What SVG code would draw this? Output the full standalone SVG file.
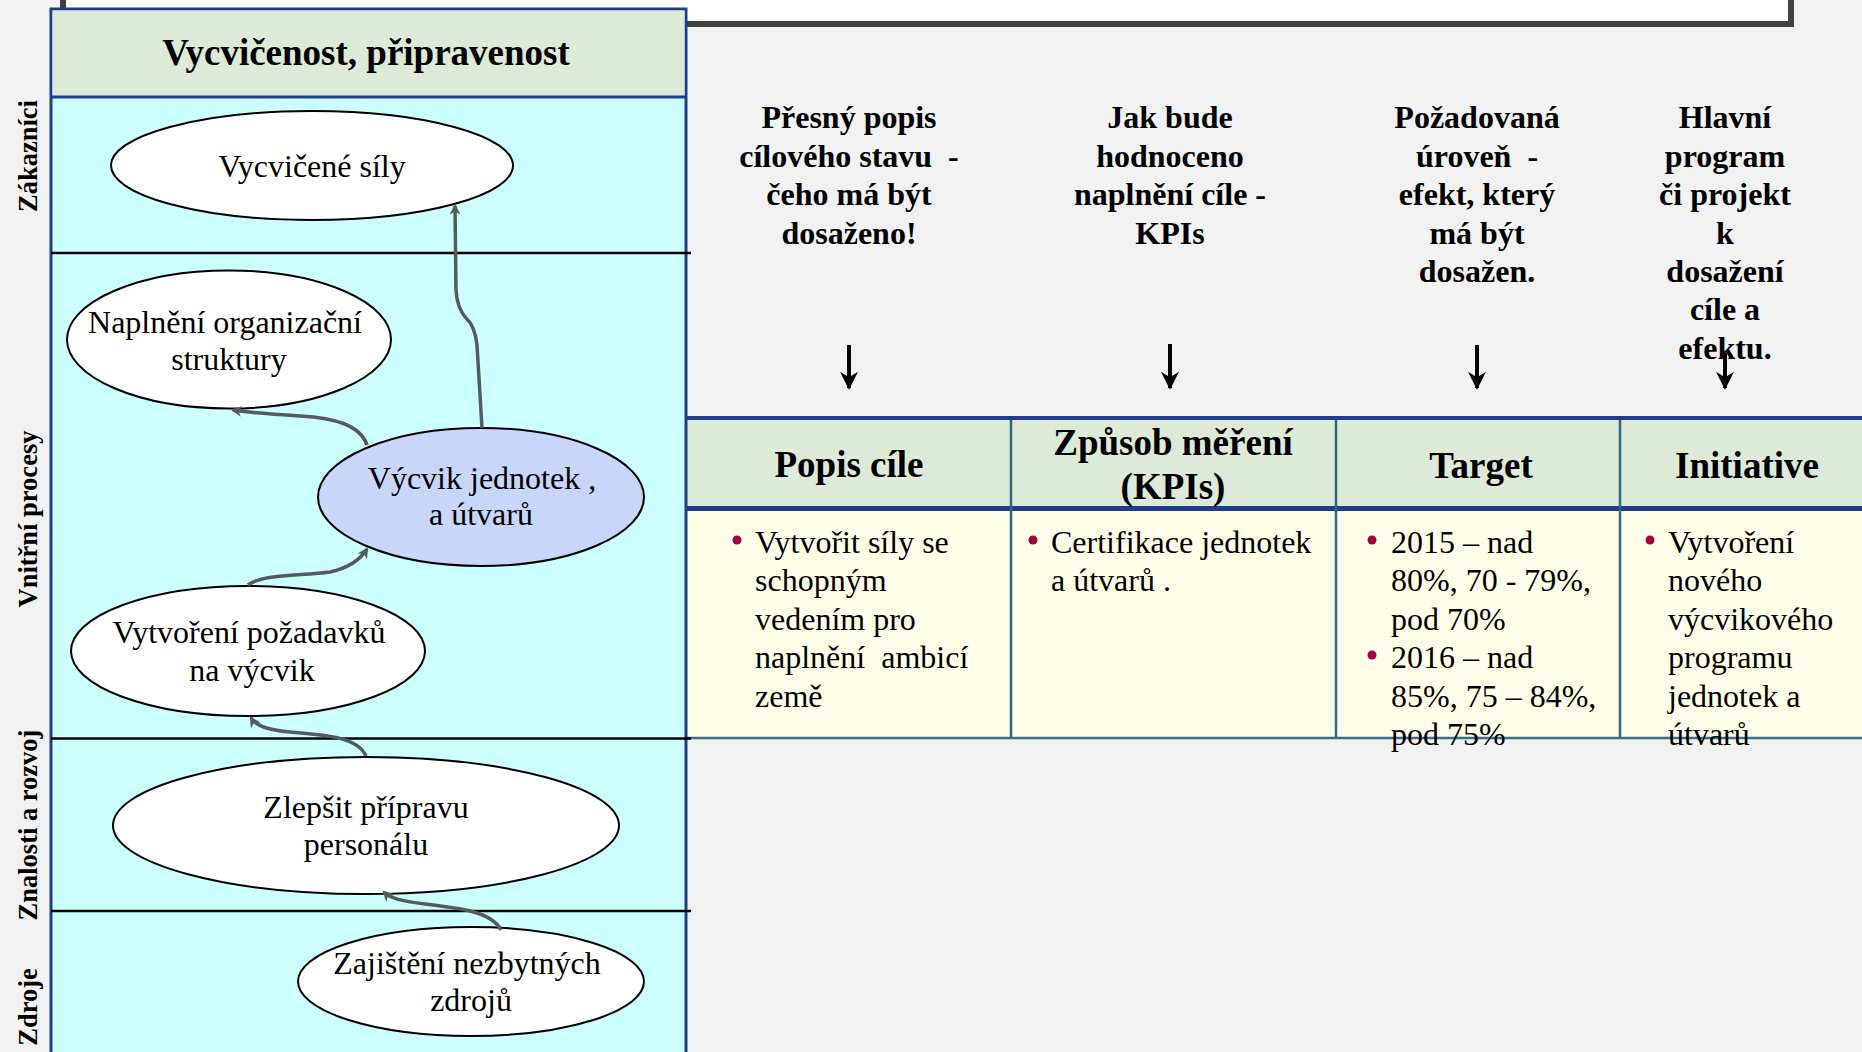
<svg xmlns="http://www.w3.org/2000/svg" width="1862" height="1052" viewBox="0 0 1862 1052">
<style>
.bg{fill:#f2f2f2}
.lbl{font-family:"Liberation Serif","Times New Roman",serif;font-weight:bold;font-size:26.5px;fill:#000;text-anchor:middle}
.el{fill:#fff;stroke:#000;stroke-width:2}
.et{font-family:"Liberation Serif","Times New Roman",serif;font-size:32px;fill:#000;text-anchor:middle}
.ch{font-family:"Liberation Serif","Times New Roman",serif;font-weight:bold;font-size:32px;fill:#000;text-anchor:middle;white-space:pre}
.th{font-family:"Liberation Serif","Times New Roman",serif;font-weight:bold;font-size:37px;fill:#000;text-anchor:middle}
.tb{font-family:"Liberation Serif","Times New Roman",serif;font-size:32px;fill:#000;white-space:pre}
.bul{fill:#a0003c}
.con{fill:none;stroke:#555a5c;stroke-width:3.5;marker-end:url(#ah)}
.dn{stroke:#000;stroke-width:4;marker-end:url(#dh)}
.lane{stroke:#000;stroke-width:2.5}
.cold{stroke:#2f6b7e;stroke-width:2.5}
</style>
<defs>
<marker id="ah" viewBox="0 0 10 10" refX="8" refY="5" markerWidth="11" markerHeight="11" markerUnits="userSpaceOnUse" orient="auto">
<path d="M0,0 L10,5 L0,10 L3,5 Z" fill="#555a5c"/>
</marker>
<marker id="dh" viewBox="0 0 10 10" refX="9" refY="5" markerWidth="18" markerHeight="18" markerUnits="userSpaceOnUse" orient="auto">
<path d="M0,0 L10,5 L0,10 L3,5 Z" fill="#000"/>
</marker>
</defs>
<rect class="bg" x="0" y="0" width="1862" height="1052"/>
<g id="top-box">
<rect x="63" y="-10" width="1728" height="34" fill="#fff" stroke="#404040" stroke-width="6"/>
</g>
<g id="table">
<rect x="686" y="418" width="1180" height="90" fill="#deead8"/>
<rect x="686" y="510" width="1180" height="228" fill="#fffee8"/>
<line x1="686" y1="418" x2="1862" y2="418" stroke="#1f3d8c" stroke-width="4"/>
<line x1="686" y1="508.5" x2="1862" y2="508.5" stroke="#1f3d8c" stroke-width="5"/>
<line x1="686" y1="738" x2="1862" y2="738" stroke="#3d6e84" stroke-width="2.5"/>
<line class="cold" x1="1011" y1="420" x2="1011" y2="738"/>
<line class="cold" x1="1336" y1="420" x2="1336" y2="738"/>
<line class="cold" x1="1620" y1="420" x2="1620" y2="738"/>
<text class="th" x="849" y="477">Popis cíle</text>
<text class="th" x="1173" y="455">Způsob měření</text>
<text class="th" x="1173" y="499">(KPIs)</text>
<text class="th" x="1481" y="478">Target</text>
<text class="th" x="1747" y="478">Initiative</text>
<circle class="bul" cx="737" cy="540" r="4.5"/>
<text class="tb" x="755" y="553">Vytvořit síly se</text>
<text class="tb" x="755" y="591">schopným</text>
<text class="tb" x="755" y="630">vedením pro</text>
<text class="tb" x="755" y="668">naplnění  ambicí</text>
<text class="tb" x="755" y="707">země</text>
<circle class="bul" cx="1033" cy="540" r="4.5"/>
<text class="tb" x="1051" y="553">Certifikace jednotek</text>
<text class="tb" x="1051" y="591">a útvarů .</text>
<circle class="bul" cx="1372" cy="540" r="4.5"/>
<text class="tb" x="1391" y="553">2015 – nad</text>
<text class="tb" x="1391" y="591">80%, 70 - 79%,</text>
<text class="tb" x="1391" y="630">pod 70%</text>
<circle class="bul" cx="1372" cy="655" r="4.5"/>
<text class="tb" x="1391" y="668">2016 – nad</text>
<text class="tb" x="1391" y="707">85%, 75 – 84%,</text>
<text class="tb" x="1391" y="745">pod 75%</text>
<circle class="bul" cx="1650" cy="540" r="4.5"/>
<text class="tb" x="1668" y="553">Vytvoření</text>
<text class="tb" x="1668" y="591">nového</text>
<text class="tb" x="1668" y="630">výcvikového</text>
<text class="tb" x="1668" y="668">programu</text>
<text class="tb" x="1668" y="707">jednotek a</text>
<text class="tb" x="1668" y="745">útvarů</text>
</g>
<g id="column-notes">
<text class="ch" x="849" y="128">Přesný popis</text>
<text class="ch" x="849" y="166.5">cílového stavu  -</text>
<text class="ch" x="849" y="205">čeho má být</text>
<text class="ch" x="849" y="243.5">dosaženo!</text>
<text class="ch" x="1170" y="128">Jak bude</text>
<text class="ch" x="1170" y="166.5">hodnoceno</text>
<text class="ch" x="1170" y="205">naplnění cíle -</text>
<text class="ch" x="1170" y="243.5">KPIs</text>
<text class="ch" x="1477" y="128">Požadovaná</text>
<text class="ch" x="1477" y="166.5">úroveň  -</text>
<text class="ch" x="1477" y="205">efekt, který</text>
<text class="ch" x="1477" y="243.5">má být</text>
<text class="ch" x="1477" y="282">dosažen.</text>
<text class="ch" x="1725" y="128">Hlavní</text>
<text class="ch" x="1725" y="166.5">program</text>
<text class="ch" x="1725" y="205">či projekt</text>
<text class="ch" x="1725" y="243.5">k</text>
<text class="ch" x="1725" y="282">dosažení</text>
<text class="ch" x="1725" y="320">cíle a</text>
<text class="ch" x="1725" y="358.5">efektu.</text>
</g>
<g id="down-arrows">
<line class="dn" x1="849" y1="345" x2="849" y2="388"/>
<line class="dn" x1="1170" y1="344" x2="1170" y2="388"/>
<line class="dn" x1="1477" y1="345" x2="1477" y2="388"/>
<line class="dn" x1="1725" y1="353" x2="1725" y2="388"/>
</g>
<g id="panel">
<rect x="51" y="9" width="635" height="1060" fill="#ccffff" stroke="#1f3d8c" stroke-width="3"/>
<rect x="52.5" y="10.5" width="632" height="86" fill="#deead8"/>
<line x1="51" y1="97" x2="686" y2="97" stroke="#1f3d8c" stroke-width="3"/>
<text x="366" y="65" font-family="Liberation Serif, Times New Roman, serif" font-weight="bold" font-size="37" text-anchor="middle">Vycvičenost, připravenost</text>
<line class="lane" x1="51" y1="253" x2="691" y2="253"/>
<line class="lane" x1="51" y1="738.5" x2="691" y2="738.5"/>
<line class="lane" x1="51" y1="911" x2="691" y2="911"/>
</g>
<g id="lane-labels">
<text class="lbl" transform="translate(37,156) rotate(-90)">Zákazníci</text>
<text class="lbl" transform="translate(37,519) rotate(-90)">Vnitřní procesy</text>
<text class="lbl" transform="translate(37,825) rotate(-90)">Znalosti a rozvoj</text>
<text class="lbl" transform="translate(37,1007) rotate(-90)">Zdroje</text>
</g>
<g id="node-vycvicene-sily">
<ellipse class="el" cx="312" cy="165.5" rx="201" ry="54.5"/>
<text class="et" x="312" y="177">Vycvičené síly</text>
</g>
<g id="node-naplneni">
<ellipse class="el" cx="229" cy="339.5" rx="162" ry="69"/>
<text class="et" x="225" y="333">Naplnění organizační</text>
<text class="et" x="229" y="370">struktury</text>
</g>
<g id="node-vycvik-jednotek">
<ellipse cx="481" cy="497" rx="163" ry="69" fill="#c9d6fb" stroke="#000" stroke-width="2"/>
<text class="et" x="482" y="489">Výcvik jednotek ,</text>
<text class="et" x="481" y="525">a útvarů</text>
</g>
<g id="node-vytvoreni-pozadavku">
<ellipse class="el" cx="248" cy="651" rx="177" ry="65"/>
<text class="et" x="249" y="643">Vytvoření požadavků</text>
<text class="et" x="252" y="681">na výcvik</text>
</g>
<g id="node-zlepsit">
<ellipse class="el" cx="366" cy="825.5" rx="253" ry="68.5"/>
<text class="et" x="366" y="818">Zlepšit přípravu</text>
<text class="et" x="366" y="855">personálu</text>
</g>
<g id="node-zajisteni">
<ellipse class="el" cx="471" cy="981.5" rx="173" ry="54.5"/>
<text class="et" x="467" y="974">Zajištění nezbytných</text>
<text class="et" x="471" y="1011">zdrojů</text>
</g>
<g id="connectors">
<path class="con" d="M482 428 L477 345 Q475 326 466 318 Q457 308 456 290 L455 206"/>
<path class="con" d="M367 445 C360 425 335 418 300 416 C270 414 245 412 233 410"/>
<path class="con" d="M248 585 C262 574 300 576 330 572 C348 568 360 560 367 549"/>
<path class="con" d="M366 756 C358 738 330 735 290 732 C268 730 256 726 251 718"/>
<path class="con" d="M501 930 C492 912 460 908 425 904 C400 901 390 898 384 892"/>
</g>
</svg>
